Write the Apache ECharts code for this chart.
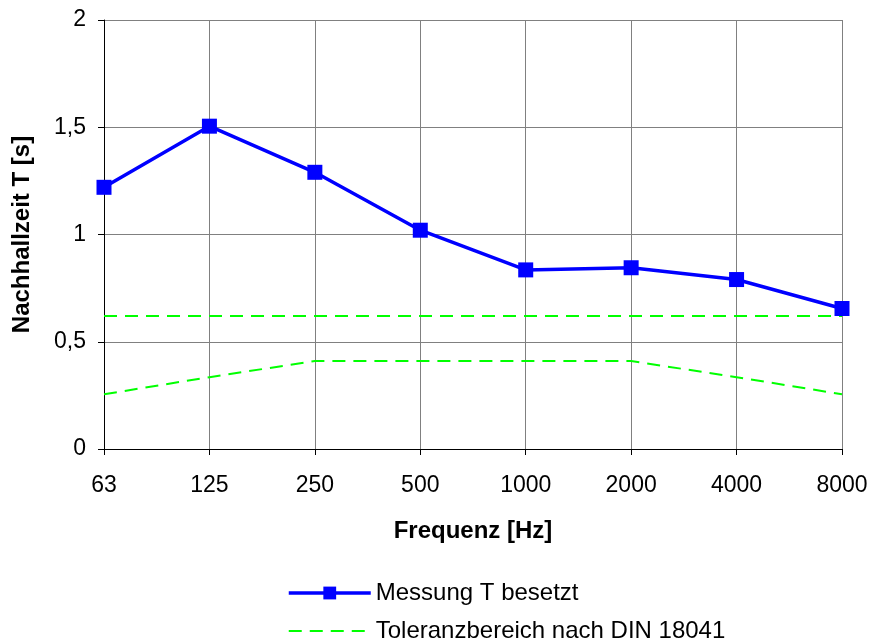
<!DOCTYPE html>
<html>
<head>
<meta charset="utf-8">
<script src="https://cdn.jsdelivr.net/npm/echarts@6/dist/echarts.min.js"></script>
<style>html,body{margin:0;padding:0;background:#fff}#c{width:873px;height:644px}</style>
</head>
<body>
<div id="c"></div>
<script>
var categories = ['63', '125', '250', '500', '1000', '2000', '4000', '8000'];
var messung = [1.22, 1.505, 1.29, 1.02, 0.835, 0.845, 0.79, 0.655];
var tolOben = [0.62, 0.62, 0.62, 0.62, 0.62, 0.62, 0.62, 0.62];
var tolUnten = [0.255, 0.335, 0.41, 0.41, 0.41, 0.41, 0.335, 0.255];
var nameMessung = 'Messung T besetzt';
var nameTol = 'Toleranzbereich nach DIN 18041';

var FONT = 'Liberation Sans, Arial, sans-serif';
var chart = echarts.init(document.getElementById('c'), null, {renderer: 'canvas'});
var dashStyle = {color: '#00ff00', width: 2, type: [13, 8]};
chart.setOption({
  animation: false,
  backgroundColor: '#ffffff',
  textStyle: {fontFamily: FONT, color: '#000'},
  grid: {left: 104, right: 31, top: 20, bottom: 195, containLabel: false},
  legend: {
    orient: 'vertical', left: 287, top: 581, height: 90, padding: 0,
    itemWidth: 82, itemHeight: 16, itemGap: 14,
    textStyle: {fontFamily: FONT, fontSize: 24, color: '#000'},
    data: [
      {name: nameMessung, lineStyle: {width: 3.5}},
      {name: nameTol, itemStyle: {opacity: 0}}
    ]
  },
  xAxis: {
    type: 'category', data: categories, boundaryGap: false,
    name: 'Frequenz [Hz]', nameLocation: 'middle', nameGap: 70,
    nameTextStyle: {fontFamily: FONT, fontSize: 24, fontWeight: 'bold', color: '#000'},
    axisLine: {lineStyle: {color: '#000', width: 1}},
    axisTick: {show: true, alignWithLabel: true, length: 6, lineStyle: {color: '#000'}},
    axisLabel: {fontFamily: FONT, fontSize: 23, color: '#000', margin: 25},
    splitLine: {show: true, lineStyle: {color: '#808080', width: 1}}
  },
  yAxis: {
    type: 'value', min: 0, max: 2, interval: 0.5,
    name: 'Nachhallzeit T [s]', nameLocation: 'middle', nameGap: 70, nameRotate: 90,
    nameTextStyle: {fontFamily: FONT, fontSize: 24, fontWeight: 'bold', color: '#000'},
    axisLine: {show: true, lineStyle: {color: '#000', width: 1}},
    axisTick: {show: true, length: 6, lineStyle: {color: '#000'}},
    axisLabel: {fontFamily: FONT, fontSize: 23, color: '#000', margin: 18,
      formatter: function (v) { return String(v).replace('.', ','); }},
    splitLine: {show: true, lineStyle: {color: '#808080', width: 1}}
  },
  series: [
    {name: nameMessung, type: 'line', data: messung, symbol: 'rect', symbolSize: 15,
     lineStyle: {color: '#0000ff', width: 3.5}, itemStyle: {color: '#0000ff'}, z: 5},
    {name: nameTol, type: 'line', data: tolOben, symbol: 'none',
     lineStyle: dashStyle, itemStyle: {color: '#00ff00'}},
    {name: nameTol, type: 'line', data: tolUnten, symbol: 'none',
     lineStyle: dashStyle, itemStyle: {color: '#00ff00'}}
  ]
});
</script>
</body>
</html>
